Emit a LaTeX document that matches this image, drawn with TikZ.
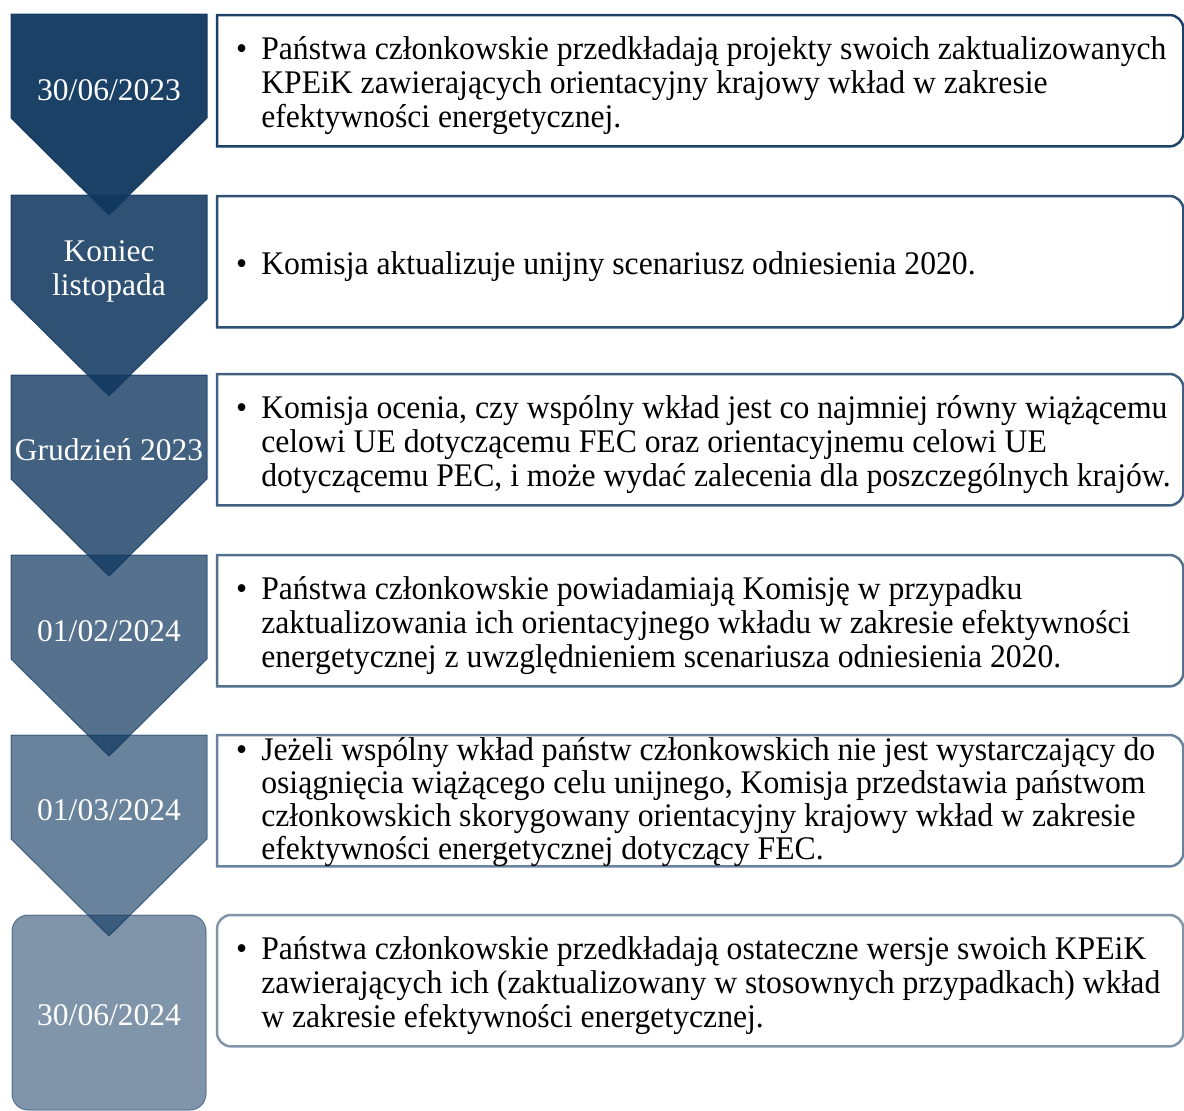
\documentclass[tikz,border=0pt]{standalone}
\usepackage{fontspec}
\setmainfont{Liberation Serif}
\newfontfamily\boxfont[FakeStretch=0.96]{Liberation Serif}
\usetikzlibrary{positioning}

\definecolor{navy}{RGB}{15,55,95}

\tikzset{
  chevron/.style={fill=navy, draw=navy, line width=1pt},
  datelbl/.style={text=white, align=center, font=\fontsize{31.5}{34}\selectfont},
  boxarea/.style={minimum width=966pt, minimum height=131pt, inner sep=0pt, anchor=north west},
  boxline/.style={draw=navy, line width=2.5pt},
  txt/.style={inner sep=0pt, align=left, yshift=-6pt, font=\boxfont\fontsize{33}{34}\selectfont}
}

\newcommand{\bul}[1]{\begin{tabular}{@{}l@{\hspace{14pt}}l@{}}\textbullet & #1\end{tabular}}

\begin{document}
\begin{tikzpicture}[x=1pt, y=-1pt]
    \useasboundingbox (0,0) rectangle (1184,1111);

    % Chevrons on the left
    \foreach \y/\op in {14/0.95, 195/0.87, 375/0.79, 555/0.71, 735/0.62}
        \draw[chevron, fill opacity=\op, draw opacity=\op]
            (11,\y) -- (207,\y) -- (207,\y+104) -- (109,\y+201) -- (11,\y+104) -- cycle;
    \draw[chevron, fill opacity=0.53, draw opacity=0.53, rounded corners=16pt]
        (12,915) rectangle (206,1110);

    % Dates
    \node[datelbl] (d1) at (109,90) {30/06/2023};
    \node[datelbl] (d2) at (109,271) {Koniec\\listopada};
    \node[datelbl] (d3) at (109,450) {Grudzień 2023};
    \node[datelbl] (d4) at (109,631) {01/02/2024};
    \node[datelbl] (d5) at (109,810) {01/03/2024};
    \node[datelbl] (d6) at (109,1015) {30/06/2024};

    % Text boxes
    \node[boxarea] (box1) at (217,15) {};
    \node[boxarea] (box2) at (217,196) {};
    \node[boxarea] (box3) at (217,374) {};
    \node[boxarea] (box4) at (217,555) {};
    \node[boxarea] (box5) at (217,735) {};
    \node[boxarea] (box6) at (217,915) {};

    \foreach \b/\op in {box1/0.95, box2/0.87, box3/0.79, box4/0.71, box5/0.62}
        \draw[boxline, draw opacity=\op] (\b.south west) -- (\b.north west)
            [rounded corners=14pt] -- (\b.north east) -- (\b.south east)
            [sharp corners] -- cycle;
    \draw[boxline, draw opacity=0.53, rounded corners=14pt]
        (box6.south west) rectangle (box6.north east);

    \node[txt, right=19pt of box1.west] (t1) {\bul{Państwa członkowskie przedkładają projekty swoich zaktualizowanych\\
        & KPEiK zawierających orientacyjny krajowy wkład w zakresie\\
        & efektywności energetycznej.}};
    \node[txt, right=19pt of box2.west] (t2) {\bul{Komisja aktualizuje unijny scenariusz odniesienia 2020.}};
    \node[txt, right=19pt of box3.west] (t3) {\bul{Komisja ocenia, czy wspólny wkład jest co najmniej równy wiążącemu\\
        & celowi UE dotyczącemu FEC oraz orientacyjnemu celowi UE\\
        & dotyczącemu PEC, i może wydać zalecenia dla poszczególnych krajów.}};
    \node[txt, right=19pt of box4.west] (t4) {\bul{Państwa członkowskie powiadamiają Komisję w przypadku\\
        & zaktualizowania ich orientacyjnego wkładu w zakresie efektywności\\
        & energetycznej z uwzględnieniem scenariusza odniesienia 2020.}};
    \node[txt, right=19pt of box5.west, yshift=3pt, font=\boxfont\fontsize{33}{33}\selectfont] (t5) {\bul{Jeżeli wspólny wkład państw członkowskich nie jest wystarczający do\\
        & osiągnięcia wiążącego celu unijnego, Komisja przedstawia państwom\\
        & członkowskich skorygowany orientacyjny krajowy wkład w zakresie\\
        & efektywności energetycznej dotyczący FEC.}};
    \node[txt, right=19pt of box6.west] (t6) {\bul{Państwa członkowskie przedkładają ostateczne wersje swoich KPEiK\\
        & zawierających ich (zaktualizowany w stosownych przypadkach) wkład\\
        & w zakresie efektywności energetycznej.}};

\end{tikzpicture}
\end{document}
